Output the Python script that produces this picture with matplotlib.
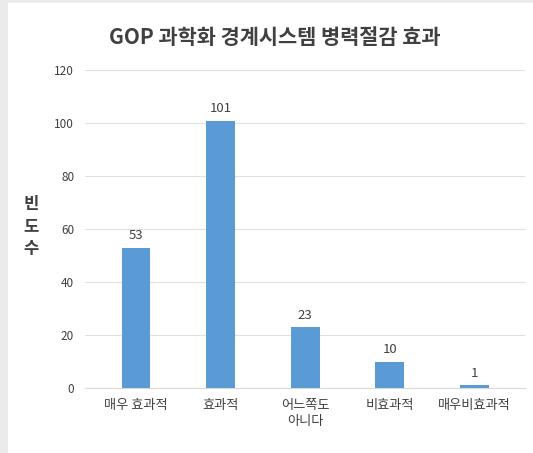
import matplotlib
matplotlib.use("Agg")
import matplotlib.pyplot as plt
from matplotlib.patches import Rectangle

plt.rcParams['font.family'] = ['Noto Sans CJK KR', 'DejaVu Sans']

categories = ["매우 효과적", "효과적", "어느쪽도\n아니다", "비효과적", "매우비효과적"]
values = [53, 101, 23, 10, 1]
yticks = [0, 20, 40, 60, 80, 100, 120]
title = "GOP 과학화 경계시스템 병력절감 효과"
ylabel = "빈\n도\n수"

fig = plt.figure(figsize=(5.33, 4.53), dpi=100)
# light gray frame strips (left and top)
fig.patches.append(Rectangle((0, 0), 8 / 533, 1, transform=fig.transFigure,
                             facecolor="#EBEBEB", edgecolor="none", zorder=0))
fig.patches.append(Rectangle((0, 1 - 3 / 453), 1, 3 / 453, transform=fig.transFigure,
                             facecolor="#EBEBEB", edgecolor="none", zorder=0))

ax = fig.add_axes([0.16, 0.1435, 0.825, 0.7015])

x = range(len(categories))
ax.bar(x, values, width=0.34, color="#5B9BD5", zorder=3)
for xi, v in zip(x, values):
    ax.text(xi, v + 2, str(v), ha="center", va="bottom", fontsize=9.5, color="#404040")

ax.set_ylim(0, 120)
ax.set_xlim(-0.6, len(categories) - 0.4)
ax.set_yticks(yticks)
ax.set_yticklabels([str(t) for t in yticks], fontsize=8.5, color="#404040")
ax.set_xticks(list(x))
ax.set_xticklabels(categories, fontsize=9.5, color="#404040", linespacing=1.3)
ax.tick_params(axis="both", length=0, pad=8)
ax.grid(axis="y", color="#E0E0E0", linewidth=0.8, zorder=0)
for s in ["top", "right", "left"]:
    ax.spines[s].set_visible(False)
ax.spines["bottom"].set_color("#D9D9D9")

fig.text(0.516, 0.918, title, ha="center", va="center", fontsize=15, color="#404040",
         fontweight="bold")
fig.text(0.058, 0.5, ylabel, ha="center", va="center", fontsize=12, color="#404040",
         linespacing=1.3, fontweight="bold")

fig.savefig("out.png", dpi=100)
